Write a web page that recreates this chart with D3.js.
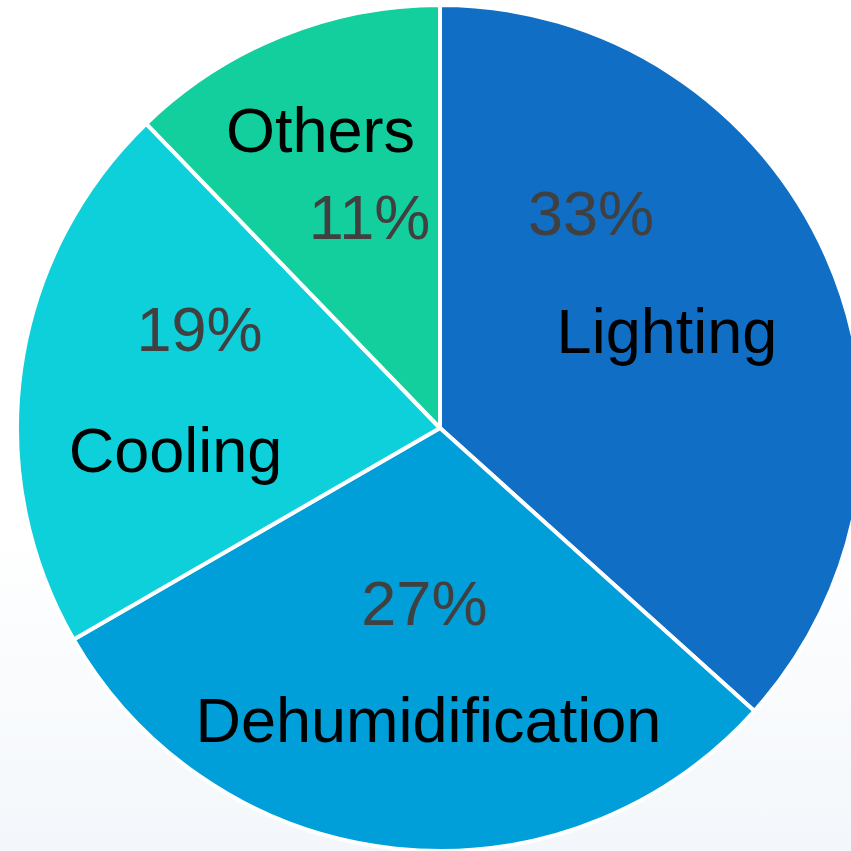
<!DOCTYPE html>
<html>
<head>
<meta charset="utf-8">
<script src="https://cdn.jsdelivr.net/npm/d3@7/dist/d3.min.js"></script>
<style>
  html, body { margin: 0; padding: 0; background: #ffffff; }
  svg { display: block; }
</style>
</head>
<body>
<svg id="chart" width="851" height="851"></svg>
<script>
// Energy use by end use, percent
const categories = ["Lighting", "Dehumidification", "Cooling", "Others"];
const shares = [33, 27, 19, 11];
const percentLabels = ["33%", "27%", "19%", "11%"];
const sliceColors = ["#106ec4", "#009fd9", "#0ed0da", "#12cf9d"];

// Label placement: offsets from each slice's label centroid (name line and percent line)
const nameOffsets = [[-6, 29], [15, 60], [-12, 79], [-24, -40]];
const pctOffsets = [[-82, -89], [11, -57], [12, -42], [25, 47]];

const width = 851, height = 851;
const cx = 440, cy = 428, radius = 423;

const svg = d3.select("#chart");

// faint wash at the bottom of the page
const defs = svg.append("defs");
const grad = defs.append("linearGradient")
  .attr("id", "bg").attr("x1", 0).attr("y1", 0).attr("x2", 0).attr("y2", 1);
grad.append("stop").attr("offset", "0.62").attr("stop-color", "#ffffff");
grad.append("stop").attr("offset", "1").attr("stop-color", "#f3f7fb");
svg.append("rect").attr("width", width).attr("height", height).attr("fill", "url(#bg)");

const data = categories.map((c, i) => ({ name: c, value: shares[i], pct: percentLabels[i], color: sliceColors[i], i }));

const pie = d3.pie().value(d => d.value).sort(null);
const arc = d3.arc().innerRadius(0).outerRadius(radius);
const labelArc = d3.arc().innerRadius(255).outerRadius(255);

const g = svg.append("g").attr("transform", `translate(${cx},${cy})`);
const arcs = pie(data);

g.selectAll("path.slice")
  .data(arcs)
  .join("path")
  .attr("class", "slice")
  .attr("d", arc)
  .attr("fill", d => d.data.color)
  .attr("stroke", "#ffffff")
  .attr("stroke-width", 4)
  .attr("stroke-linejoin", "round");

const font = "'Liberation Sans', Arial, sans-serif";

g.selectAll("text.name")
  .data(arcs)
  .join("text")
  .attr("class", "name")
  .attr("x", d => labelArc.centroid(d)[0] + nameOffsets[d.data.i][0])
  .attr("y", d => labelArc.centroid(d)[1] + nameOffsets[d.data.i][1])
  .attr("text-anchor", "middle")
  .attr("font-family", font)
  .attr("font-size", 63)
  .attr("fill", "#000000")
  .text(d => d.data.name);

g.selectAll("text.pct")
  .data(arcs)
  .join("text")
  .attr("class", "pct")
  .attr("x", d => labelArc.centroid(d)[0] + pctOffsets[d.data.i][0])
  .attr("y", d => labelArc.centroid(d)[1] + pctOffsets[d.data.i][1])
  .attr("text-anchor", "middle")
  .attr("font-family", font)
  .attr("font-size", 63)
  .attr("fill", "#404040")
  .text(d => d.data.pct);
</script>
</body>
</html>
